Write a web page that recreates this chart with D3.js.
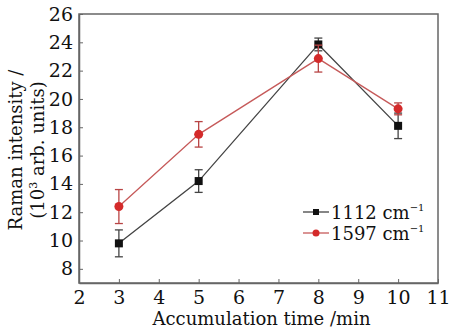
<!DOCTYPE html>
<html>
<head>
<meta charset="utf-8">
<script src="https://cdn.jsdelivr.net/npm/d3@7"></script>
<style>
  body { margin: 0; background: #fff; }
  svg text { font-family: "DejaVu Serif", "Liberation Serif", serif; fill: #111; }
</style>
</head>
<body>
<div id="render-here"></div>
<script>
// accumulation time (min)
const times = [3, 5, 8, 10];
// 1112 cm-1 band, mean and error
const band1112 = [9.8, 14.2, 23.85, 18.1];
const err1112 = [0.95, 0.8, 0.45, 0.9];
// 1597 cm-1 band
const band1597 = [12.4, 17.5, 22.85, 19.3];
const err1597 = [1.2, 0.9, 0.95, 0.42];
const xTicks = [2, 3, 4, 5, 6, 7, 8, 9, 10, 11];
const yTicks = [8, 10, 12, 14, 16, 18, 20, 22, 24, 26];
const seriesNames = ['1112 cm', '1597 cm'];

const W = 452, H = 333;
const margin = {top: 14, right: 14, bottom: 50, left: 79};
const width = W - margin.left - margin.right;
const height = H - margin.top - margin.bottom;

const xScale = d3.scaleLinear().domain([2, 11]).range([0, width]);
const yScale = d3.scaleLinear().domain([7, 26]).range([height, 0]);

const svg = d3.select('#render-here').append('svg')
    .attr('width', W).attr('height', H);
const g = svg.append('g').attr('transform', `translate(${margin.left},${margin.top})`);

// frame
g.append('rect')
    .attr('width', width).attr('height', height)
    .attr('fill', 'none').attr('stroke', '#666').attr('stroke-width', 1.5);

const xAxis = g.append('g')
    .attr('transform', `translate(0,${height})`)
    .call(d3.axisBottom(xScale).tickValues(xTicks).tickSizeInner(-4).tickSizeOuter(0).tickPadding(8));
const yAxis = g.append('g')
    .call(d3.axisLeft(yScale).tickValues(yTicks).tickSizeInner(-4).tickSizeOuter(0).tickPadding(6));
[xAxis, yAxis].forEach(a => {
    a.select('.domain').attr('stroke', '#666').attr('stroke-width', 1.5);
    a.selectAll('.tick line').attr('stroke', '#666');
    a.selectAll('text').attr('font-size', 19).attr('fill', '#111')
        .style('font-family', '"DejaVu Serif", serif');
});

// axis titles
svg.append('text')
    .attr('x', margin.left + width / 2 + 3).attr('y', 325)
    .attr('text-anchor', 'middle').attr('font-size', 18)
    .text('Accumulation time /min');

const yt = svg.append('text')
    .attr('transform', 'translate(22,150) rotate(-90)')
    .attr('text-anchor', 'middle').attr('font-size', 18);
yt.append('tspan').attr('x', 0).attr('dy', 0).text('Raman intensity /');
const t2 = yt.append('tspan').attr('x', 0).attr('dy', 22).text('(10');
t2.append('tspan').attr('font-size', 11).attr('dy', -7).text('3');
t2.append('tspan').attr('dy', 7).text(' arb. units)');

const series = [
    {name: seriesNames[0], vals: band1112, errs: err1112, line: '#444', mark: '#111', bar: '#444', shape: 'square'},
    {name: seriesNames[1], vals: band1597, errs: err1597, line: '#c65a5a', mark: '#d42a2a', bar: '#b84444', shape: 'circle'}
];

const line = d3.line().x(d => xScale(d.x)).y(d => yScale(d.y));

series.forEach(s => {
    const pts = times.map((t, i) => ({x: t, y: s.vals[i], e: s.errs[i]}));
    g.append('path').datum(pts)
        .attr('d', line).attr('fill', 'none')
        .attr('stroke', s.line).attr('stroke-width', 1.3);
    const eb = g.append('g').selectAll('g').data(pts).enter().append('g')
        .attr('stroke', s.bar).attr('stroke-width', 1.3);
    eb.append('line')
        .attr('x1', d => xScale(d.x)).attr('x2', d => xScale(d.x))
        .attr('y1', d => yScale(d.y - d.e)).attr('y2', d => yScale(d.y + d.e));
    [-1, 1].forEach(sign => {
        eb.append('line')
            .attr('x1', d => xScale(d.x) - 4).attr('x2', d => xScale(d.x) + 4)
            .attr('y1', d => yScale(d.y + sign * d.e)).attr('y2', d => yScale(d.y + sign * d.e));
    });
    if (s.shape === 'square') {
        g.append('g').selectAll('rect').data(pts).enter().append('rect')
            .attr('x', d => xScale(d.x) - 4).attr('y', d => yScale(d.y) - 4)
            .attr('width', 8).attr('height', 8).attr('fill', s.mark);
    } else {
        g.append('g').selectAll('circle').data(pts).enter().append('circle')
            .attr('cx', d => xScale(d.x)).attr('cy', d => yScale(d.y))
            .attr('r', 4.5).attr('fill', s.mark);
    }
});

// legend
const legend = svg.append('g').attr('transform', 'translate(303,212)');
series.forEach((s, i) => {
    const row = legend.append('g').attr('transform', `translate(0,${i * 21})`);
    row.append('line').attr('x1', 0).attr('x2', 26).attr('stroke', s.line).attr('stroke-width', 1.3);
    if (s.shape === 'square') {
        row.append('rect').attr('x', 10).attr('y', -3).attr('width', 6).attr('height', 6).attr('fill', s.mark);
    } else {
        row.append('circle').attr('cx', 13).attr('r', 3.5).attr('fill', s.mark);
    }
    const t = row.append('text').attr('x', 28).attr('y', 7).attr('font-size', 18).text(s.name);
    t.append('tspan').attr('font-size', 10).attr('dy', -8).text('−1');
});
</script>
</body>
</html>
